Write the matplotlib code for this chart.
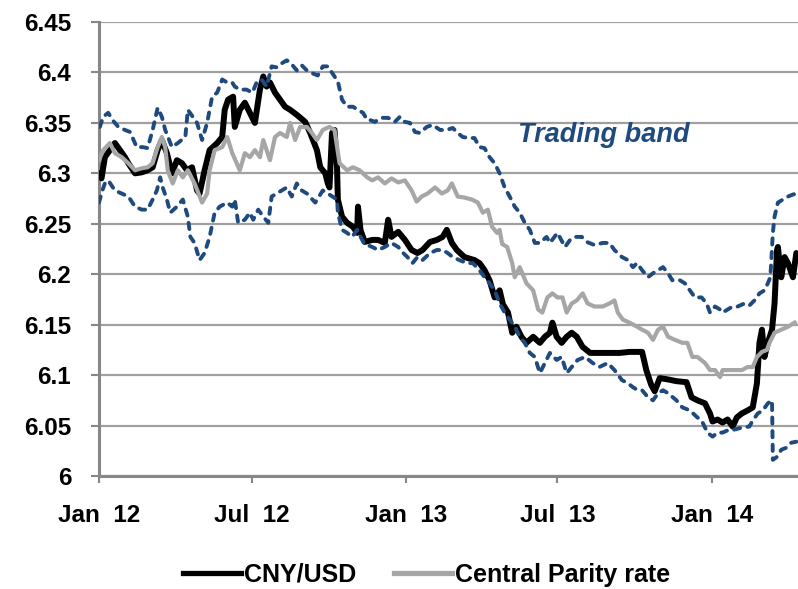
import numpy as np
import matplotlib
matplotlib.use('Agg')
import matplotlib.pyplot as plt
import matplotlib.dates as mdates
from matplotlib.lines import Line2D

# ---------------- data (x = days since 2012-01-01) ----------------
cny_days = [0, 3, 7, 19, 25, 31, 35, 43, 51, 58, 64, 70, 75, 81, 87, 93, 99, 105, 111, 117,
            120, 126, 132, 141, 147, 150, 154, 160, 162, 168, 174, 180, 186, 192, 196, 200,
            204, 210, 216, 222, 228, 236, 246, 252, 260, 264, 270, 273, 275, 278, 281, 284,
            285, 290, 296, 303, 308, 309, 312, 317, 326, 333, 341, 345, 349, 357, 365, 373,
            380, 386, 395, 403, 410, 415, 421, 427, 436, 448, 454, 460, 466, 472, 478, 482,
            488, 493, 498, 504, 510, 518, 526, 532, 538, 541, 546, 552, 558, 564, 570, 577,
            586, 597, 609, 621, 633, 648, 653, 659, 663, 669, 677, 689, 701, 707, 714, 723,
            729, 732, 738, 744, 750, 756, 761, 767, 774, 780, 785, 788, 791, 794, 798, 803,
            806, 809, 810, 814, 818, 822, 828, 832]
cny_vals = [6.300, 6.295, 6.316, 6.330, 6.323, 6.316, 6.310, 6.300, 6.301, 6.303, 6.306, 6.323,
            6.333, 6.320, 6.300, 6.313, 6.310, 6.303, 6.306, 6.283, 6.280, 6.303, 6.323, 6.330,
            6.336, 6.363, 6.373, 6.376, 6.346, 6.363, 6.370, 6.360, 6.350, 6.383, 6.396, 6.386,
            6.390, 6.380, 6.373, 6.366, 6.363, 6.358, 6.351, 6.340, 6.323, 6.306, 6.300, 6.290,
            6.286, 6.340, 6.343, 6.306, 6.274, 6.257, 6.251, 6.247, 6.241, 6.267, 6.244, 6.232,
            6.234, 6.234, 6.231, 6.254, 6.237, 6.242, 6.234, 6.224, 6.221, 6.224, 6.232, 6.234,
            6.237, 6.244, 6.231, 6.224, 6.217, 6.214, 6.211, 6.204, 6.194, 6.177, 6.184, 6.170,
            6.162, 6.142, 6.148, 6.138, 6.132, 6.138, 6.132, 6.138, 6.142, 6.152, 6.138, 6.132,
            6.138, 6.142, 6.138, 6.128, 6.122, 6.122, 6.122, 6.122, 6.123, 6.123, 6.105, 6.090,
            6.084, 6.097, 6.096, 6.094, 6.093, 6.078, 6.075, 6.072, 6.062, 6.054, 6.056, 6.053,
            6.056, 6.049, 6.058, 6.062, 6.065, 6.068, 6.092, 6.132, 6.145, 6.118, 6.132, 6.145,
            6.171, 6.224, 6.227, 6.197, 6.217, 6.211, 6.197, 6.221]

parity_days = [0, 5, 13, 19, 27, 35, 43, 51, 58, 64, 70, 75, 79, 82, 88, 94, 100, 106, 114, 123,
               129, 132, 138, 147, 153, 159, 168, 174, 180, 186, 192, 196, 200, 204, 210, 216,
               224, 228, 234, 240, 248, 254, 260, 267, 275, 281, 287, 296, 303, 311, 320, 326,
               333, 341, 349, 357, 365, 373, 379, 385, 392, 401, 409, 416, 421, 428, 436, 445,
               452, 458, 464, 469, 475, 478, 481, 487, 493, 496, 502, 510, 518, 524, 529, 535,
               541, 547, 553, 558, 564, 570, 577, 583, 591, 601, 609, 615, 619, 625, 633, 642,
               648, 655, 661, 667, 673, 679, 687, 696, 702, 708, 714, 723, 729, 735, 741, 744,
               750, 758, 767, 774, 780, 785, 791, 797, 800, 806, 814, 822, 830]
parity_vals = [6.313, 6.323, 6.330, 6.320, 6.316, 6.310, 6.303, 6.305, 6.306, 6.310, 6.326, 6.336,
               6.326, 6.303, 6.290, 6.303, 6.296, 6.303, 6.290, 6.271, 6.280, 6.303, 6.323, 6.326,
               6.336, 6.320, 6.303, 6.320, 6.316, 6.323, 6.316, 6.333, 6.323, 6.313, 6.336, 6.340,
               6.336, 6.350, 6.333, 6.346, 6.346, 6.340, 6.333, 6.343, 6.346, 6.343, 6.310, 6.303,
               6.306, 6.303, 6.296, 6.293, 6.296, 6.290, 6.295, 6.291, 6.293, 6.283, 6.272, 6.277,
               6.280, 6.286, 6.280, 6.283, 6.290, 6.277, 6.276, 6.274, 6.271, 6.261, 6.264, 6.247,
               6.241, 6.244, 6.230, 6.227, 6.211, 6.197, 6.207, 6.191, 6.184, 6.165, 6.162, 6.177,
               6.181, 6.177, 6.177, 6.162, 6.171, 6.174, 6.181, 6.171, 6.168, 6.168, 6.171, 6.174,
               6.162, 6.155, 6.152, 6.148, 6.145, 6.142, 6.135, 6.145, 6.148, 6.138, 6.135, 6.132,
               6.132, 6.118, 6.118, 6.112, 6.105, 6.105, 6.098, 6.105, 6.105, 6.105, 6.105, 6.108,
               6.108, 6.118, 6.123, 6.125, 6.132, 6.142, 6.145, 6.148, 6.152]

upper_days = [1, 5, 11, 16, 23, 31, 37, 45, 52, 58, 64, 70, 75, 79, 87, 94, 103, 106, 112, 117,
              123, 129, 135, 141, 147, 153, 159, 162, 168, 176, 183, 188, 194, 200, 206, 212,
              218, 224, 228, 236, 242, 248, 255, 261, 267, 273, 281, 285, 290, 296, 303, 309,
              315, 320, 323, 329, 337, 345, 353, 359, 365, 371, 377, 383, 391, 398, 407, 415,
              422, 428, 434, 442, 448, 454, 460, 466, 472, 478, 484, 490, 496, 502, 508, 514,
              520, 526, 534, 538, 547, 556, 562, 568, 576, 582, 591, 601, 609, 615, 624, 631,
              637, 642, 648, 655, 661, 667, 673, 679, 684, 693, 699, 705, 711, 719, 725, 729,
              735, 741, 744, 750, 756, 762, 770, 776, 782, 788, 794, 798, 801, 804, 806, 810,
              816, 822, 828, 832]
upper_vals = [6.346, 6.356, 6.360, 6.353, 6.346, 6.343, 6.341, 6.326, 6.326, 6.325, 6.343, 6.365,
              6.356, 6.343, 6.326, 6.330, 6.336, 6.363, 6.356, 6.350, 6.333, 6.350, 6.376, 6.380,
              6.393, 6.390, 6.390, 6.386, 6.383, 6.383, 6.380, 6.390, 6.393, 6.386, 6.406, 6.405,
              6.409, 6.412, 6.410, 6.402, 6.407, 6.402, 6.399, 6.397, 6.406, 6.406, 6.396, 6.391,
              6.373, 6.366, 6.366, 6.363, 6.360, 6.353, 6.353, 6.351, 6.355, 6.355, 6.351, 6.356,
              6.351, 6.350, 6.341, 6.340, 6.346, 6.348, 6.343, 6.343, 6.345, 6.340, 6.336, 6.335,
              6.335, 6.326, 6.325, 6.316, 6.310, 6.300, 6.286, 6.277, 6.267, 6.261, 6.251, 6.244,
              6.231, 6.231, 6.237, 6.231, 6.241, 6.227, 6.234, 6.237, 6.237, 6.232, 6.229, 6.231,
              6.231, 6.224, 6.217, 6.214, 6.207, 6.211, 6.204, 6.197, 6.201, 6.204, 6.207, 6.201,
              6.194, 6.194, 6.191, 6.184, 6.177, 6.177, 6.171, 6.162, 6.168, 6.165, 6.162, 6.165,
              6.168, 6.168, 6.171, 6.169, 6.174, 6.181, 6.184, 6.191, 6.197, 6.241, 6.257, 6.271,
              6.274, 6.277, 6.279, 6.280]

lower_days = [0, 4, 7, 11, 19, 27, 35, 43, 51, 58, 64, 69, 73, 76, 81, 85, 93, 100, 106, 109,
              114, 120, 126, 132, 138, 144, 153, 159, 162, 166, 174, 180, 184, 190, 196, 202,
              206, 212, 218, 224, 230, 236, 242, 248, 258, 267, 273, 284, 285, 290, 296, 302,
              308, 314, 317, 326, 333, 341, 349, 357, 363, 368, 374, 380, 386, 395, 403, 410,
              416, 422, 430, 439, 446, 454, 460, 466, 472, 478, 484, 490, 496, 502, 508, 514,
              520, 526, 532, 538, 546, 552, 558, 564, 571, 580, 589, 597, 607, 615, 624, 631,
              637, 643, 648, 655, 661, 667, 673, 679, 689, 696, 705, 714, 719, 726, 732, 738,
              744, 752, 758, 767, 776, 780, 786, 792, 798, 803, 804, 809, 814, 820, 826, 832]
lower_vals = [6.271, 6.283, 6.290, 6.293, 6.283, 6.280, 6.277, 6.267, 6.264, 6.264, 6.274, 6.283,
              6.296, 6.286, 6.274, 6.261, 6.267, 6.274, 6.257, 6.237, 6.231, 6.214, 6.221, 6.237,
              6.261, 6.267, 6.271, 6.267, 6.274, 6.251, 6.254, 6.261, 6.254, 6.264, 6.257, 6.251,
              6.277, 6.280, 6.283, 6.286, 6.277, 6.290, 6.283, 6.280, 6.271, 6.283, 6.280, 6.274,
              6.261, 6.244, 6.241, 6.237, 6.244, 6.234, 6.230, 6.227, 6.224, 6.227, 6.231, 6.227,
              6.221, 6.217, 6.211, 6.217, 6.214, 6.221, 6.224, 6.224, 6.221, 6.217, 6.214, 6.211,
              6.211, 6.204, 6.197, 6.191, 6.184, 6.171, 6.162, 6.155, 6.148, 6.138, 6.132, 6.122,
              6.118, 6.102, 6.112, 6.122, 6.115, 6.118, 6.102, 6.108, 6.115, 6.118, 6.112, 6.108,
              6.112, 6.105, 6.095, 6.092, 6.088, 6.085, 6.085, 6.078, 6.075, 6.082, 6.085, 6.082,
              6.075, 6.068, 6.065, 6.058, 6.055, 6.043, 6.039, 6.043, 6.043, 6.046, 6.046, 6.048,
              6.049, 6.055, 6.062, 6.065, 6.072, 6.075, 6.016, 6.019, 6.026, 6.028, 6.033, 6.034]

tick_dates = ['2012-01-01', '2012-07-01', '2013-01-01', '2013-07-01', '2014-01-01']
tick_labels = ['Jan  12', 'Jul  12', 'Jan  13', 'Jul  13', 'Jan  14']
y_ticks = [6.0, 6.05, 6.1, 6.15, 6.2, 6.25, 6.3, 6.35, 6.4, 6.45]
y_labels = ['6', '6.05', '6.1', '6.15', '6.2', '6.25', '6.3', '6.35', '6.4', '6.45']
series_names = ['CNY/USD', 'Central Parity rate']
annotation = 'Trading band'

# ---------------- drawing ----------------
FONT = ['Liberation Sans', 'DejaVu Sans']
plt.rcParams['font.family'] = FONT
plt.rcParams['font.weight'] = 'bold'
FS = 17.5

start = np.datetime64('2012-01-01')

def to_dates(days):
    return start + np.array(days).astype('timedelta64[D]')

fig = plt.figure(figsize=(7.98, 5.89), dpi=100)
ax = fig.add_axes([99 / 798, 1 - 476 / 589, 1 - 99 / 798, (476 - 22) / 589])

BLUE = '#1F4A7E'
GRAY = '#A6A6A6'
ax.plot(to_dates(cny_days), cny_vals, color='black', lw=4.3, solid_joinstyle='round',
        solid_capstyle='round', zorder=3)
ax.plot(to_dates(parity_days), parity_vals, color=GRAY, lw=3.0, solid_joinstyle='round',
        zorder=4)
for d, v in ((upper_days, upper_vals), (lower_days, lower_vals)):
    ax.plot(to_dates(d), v, color=BLUE, lw=2.8, dashes=(1.6, 1.9), dash_capstyle='round',
            zorder=5)

ax.set_xlim(start, start + np.timedelta64(834, 'D'))
ax.set_ylim(6.0, 6.45)
ax.set_yticks(y_ticks)
ax.set_yticklabels(y_labels)
ax.set_xticks([mdates.date2num(np.datetime64(d)) for d in tick_dates])
ax.set_xticklabels(tick_labels)

ax.grid(axis='y', color='#A0A0A0', lw=1.6, zorder=0)
ax.set_axisbelow(True)
for s in ('top', 'right'):
    ax.spines[s].set_visible(False)
for s in ('left', 'bottom'):
    ax.spines[s].set_color('#878787')
    ax.spines[s].set_linewidth(2.2)
ax.tick_params(axis='y', length=6, width=1.5, color='#878787', pad=14, labelsize=FS)
ax.tick_params(axis='x', length=5, width=1.5, color='#878787', pad=15, labelsize=FS)
for lab in ax.get_xticklabels() + ax.get_yticklabels():
    lab.set_fontweight('bold')

ax.text(start + np.timedelta64(602, 'D'), 6.338, annotation, color=BLUE, fontsize=19.5,
        fontweight='bold', fontstyle='italic', ha='center', va='center')

handles = [Line2D([], [], color='black', lw=3.8), Line2D([], [], color=GRAY, lw=3.8)]
fig.legend(handles, series_names, loc='center', bbox_to_anchor=(0.535, 0.024), ncol=2,
           frameon=False, handlelength=2.3, handletextpad=0.15,
           columnspacing=1.5, prop={'weight': 'bold', 'size': 18})

fig.savefig('out.png', dpi=100)
